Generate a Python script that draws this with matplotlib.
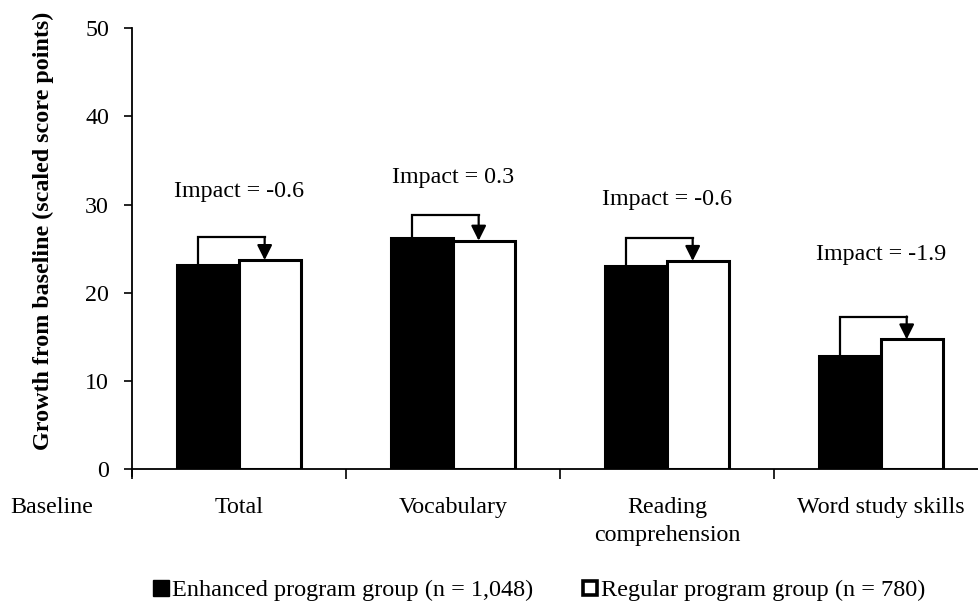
#!/usr/bin/python3
"""
plot.py

Growth from baseline by program group, with impact brackets.
Saves the figure as out.png.
"""

import matplotlib.pyplot as plt
from matplotlib.lines import Line2D

categories = ['Total', 'Vocabulary', 'Reading\ncomprehension', 'Word study skills']
enhanced = [23.1, 26.2, 23.0, 12.8]
regular = [23.7, 25.9, 23.6, 14.7]
impacts = ['-0.6', '0.3', '-0.6', '-1.9']
impact_label_y = [30.9, 32.5, 30.0, 23.7]

legend_labels = ['Enhanced program group (n = 1,048)', 'Regular program group (n = 780)']
y_label = 'Growth from baseline (scaled score points)'

plt.rcParams['font.family'] = ['Liberation Serif', 'DejaVu Serif']
FS = 17.3


def draw_chart(output_path):
    fig = plt.figure(figsize=(9.79, 6.06), dpi=100)
    ax = fig.add_axes([0.1348, 0.2261, 0.8744, 0.7272])

    bar_w = 0.288
    centers = [i + 0.5 for i in range(len(categories))]

    ax.bar([c - bar_w / 2 for c in centers], enhanced, width=bar_w,
           color='black', edgecolor='black', linewidth=2.2, zorder=2)
    ax.bar([c + bar_w / 2 for c in centers], regular, width=bar_w,
           color='white', edgecolor='black', linewidth=2.2, zorder=2)

    # Impact brackets: from the enhanced bar down onto the regular bar
    for c, e, r, imp, ly in zip(centers, enhanced, regular, impacts, impact_label_y):
        x0 = c - 0.19
        x1 = c + 0.12
        top = max(e, r) + 2.6
        ax.plot([x0, x0, x1, x1], [e, top, top, top], color='black',
                linewidth=1.6, solid_joinstyle='miter', zorder=3)
        ax.annotate('', xy=(x1, r), xytext=(x1, top),
                    arrowprops=dict(arrowstyle='-|>,head_length=0.9,head_width=0.45',
                                    color='black', lw=1.6, shrinkA=0, shrinkB=0),
                    zorder=3)
        ax.text(c, ly, 'Impact = ' + imp, ha='center', va='baseline', fontsize=FS)

    ax.set_xlim(0, len(categories))
    ax.set_ylim(0, 50)
    ax.set_yticks(range(0, 51, 10))
    ax.tick_params(axis='y', labelsize=FS, direction='out', length=6, width=1.2, pad=10.5)
    ax.set_xticks(range(0, len(categories) + 1))
    ax.set_xticklabels([])
    ax.tick_params(axis='x', direction='out', length=7, width=1.2)

    # category names sit below the axis, "Baseline" left of the y axis
    for c, name in zip(centers, categories):
        ax.text(c, -3.2, name, ha='center', va='top', fontsize=FS, linespacing=1.45)
    ax.text(-0.376, -3.2, 'Baseline', ha='center', va='top', fontsize=FS)

    ax.spines['top'].set_visible(False)
    ax.spines['right'].set_visible(False)
    ax.spines['left'].set_linewidth(1.3)
    ax.spines['bottom'].set_linewidth(1.3)
    ax.spines['left'].set_bounds(-0.75, 50)

    fig.text(43 / 979, 1 - 231 / 606, y_label, rotation=90, ha='center', va='center',
             fontsize=FS, fontweight='bold')

    handles = [
        Line2D([], [], marker='s', linestyle='none', markersize=11,
               markerfacecolor='black', markeredgecolor='black', markeredgewidth=1.0),
        Line2D([], [], marker='s', linestyle='none', markersize=10.5,
               markerfacecolor='white', markeredgecolor='black', markeredgewidth=2.6),
    ]
    fig.legend(handles, legend_labels, loc='center', bbox_to_anchor=(0.549, 0.026),
               ncol=2, frameon=False, fontsize=FS + 0.2, handletextpad=0.0,
               columnspacing=1.9, handlelength=0.9, borderpad=0.2)

    fig.savefig(output_path, dpi=100)
    plt.close(fig)


def main():
    draw_chart('out.png')


if __name__ == '__main__':
    main()
